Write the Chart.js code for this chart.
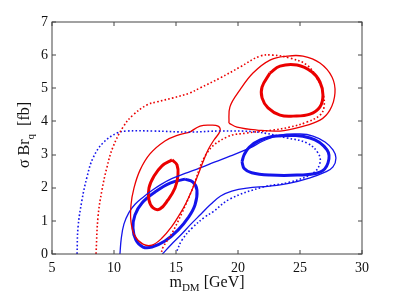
<!DOCTYPE html>
<html>
<head>
<meta charset="utf-8">
<script src="https://cdn.jsdelivr.net/npm/chart.js@4/dist/chart.umd.min.js"></script>
<style>
  html, body { margin: 0; padding: 0; background: #fff; }
  #wrap { width: 399px; height: 299px; }
</style>
</head>
<body>
<div id="wrap"><canvas id="grafica"></canvas></div>
<script>
// Contornos: pares [m_DM, sigma Br_q]
const rojoNucleoIzq = [[14.68,2.84],[15.08,2.69],[15.16,2.38],[14.92,1.99],[14.35,1.63],[13.71,1.36],[13.15,1.39],[12.82,1.63],[12.82,1.99],[13.23,2.35],[13.87,2.66],[14.68,2.84]];
const rojoNucleoDer = [[22.58,5.46],[23.39,5.67],[24.76,5.70],[25.97,5.49],[26.61,5.19],[26.85,4.80],[26.61,4.44],[25.81,4.22],[24.44,4.16],[23.39,4.19],[22.42,4.41],[21.94,4.71],[21.94,5.04],[22.58,5.46]];
const rojoFinoIzq = [[16.13,3.68],[16.94,3.86],[17.74,3.89],[18.39,3.86],[18.55,3.71],[18.06,3.44],[17.58,3.14],[17.18,2.78],[16.77,2.38],[16.29,1.93],[15.81,1.54],[15.32,1.21],[14.68,0.84],[13.87,0.48],[13.06,0.27],[12.34,0.30],[11.69,0.54],[11.37,0.97],[11.37,1.48],[11.61,1.99],[12.10,2.53],[12.90,3.02],[14.11,3.41],[15.16,3.59],[16.13,3.68]];
const rojoFinoDer = [[19.27,3.95],[19.35,4.44],[20.16,4.95],[21.21,5.46],[22.58,5.85],[23.95,5.97],[25.24,5.97],[26.61,5.76],[27.58,5.34],[27.82,4.86],[27.42,4.35],[26.61,4.04],[25.00,3.83],[23.39,3.71],[21.53,3.74],[19.92,3.83],[19.27,3.95]];
const rojoPunteado = [[8.55,0],[8.71,1.12],[9.03,1.93],[9.44,2.63],[9.92,3.23],[10.73,3.83],[11.53,4.19],[12.66,4.50],[13.47,4.59],[14.76,4.71],[16.13,4.86],[16.94,5.01],[18.55,5.31],[20.16,5.64],[21.77,5.97],[22.82,6.00],[24.19,5.91],[25.56,5.70],[26.45,5.25],[26.85,4.86],[26.94,4.44],[26.61,4.19],[25.56,3.98],[24.19,3.83],[22.82,3.74],[20.73,3.65],[19.11,3.53],[17.50,3.05],[16.29,1.93],[15.48,1.24],[14.68,0.63],[13.95,0.2],[13.8,0]];

const azulNucleoIzq = [[15.73,2.26],[16.37,2.17],[16.69,1.93],[16.53,1.48],[15.97,1.09],[15.16,0.72],[14.11,0.39],[13.06,0.21],[12.34,0.21],[11.77,0.42],[11.53,0.78],[11.69,1.18],[12.26,1.54],[13.31,1.87],[14.52,2.14],[15.73,2.26]];
const azulNucleoDer = [[20.32,2.78],[20.5,3.0],[20.9,3.22],[21.8,3.44],[23.15,3.56],[25.81,3.50],[27.18,3.14],[27.26,2.75],[26.61,2.47],[24.76,2.38],[22.58,2.38],[21.1,2.45],[20.5,2.58],[20.32,2.78]];
const azulFino = [[10.48,0],[10.58,0.45],[10.8,0.9],[11.2,1.25],[11.7,1.5],[12.3,1.7],[13.0,1.9],[13.8,2.1],[14.7,2.28],[15.73,2.43],[16.94,2.60],[18.15,2.78],[19.35,2.95],[20.97,3.20],[22.02,3.41],[23.39,3.59],[25.00,3.62],[26.05,3.56],[27.02,3.38],[27.66,3.14],[27.90,2.90],[27.66,2.63],[27.02,2.47],[25.81,2.30],[24.19,2.14],[22.58,2.05],[20.73,1.99],[19.5,1.9],[18.6,1.75],[17.8,1.5],[17.0,1.2],[16.2,0.9],[15.4,0.58],[14.6,0.28],[13.9,0]];
const azulPunteado = [[7.02,0],[7.10,0.81],[7.42,1.63],[7.82,2.32],[8.31,2.90],[9.11,3.35],[10.24,3.65],[11.05,3.71],[13.15,3.71],[16.13,3.68],[18.55,3.71],[21.5,3.68],[23.95,3.50],[25.56,3.35],[26.45,3.05],[26.61,2.75],[26.05,2.44],[24.19,2.17],[22.02,2.02],[19.35,1.66],[17.98,1.27],[17.34,1.12],[16.29,0.78],[15.48,0.42],[15.08,0.1]];

const ticksX = [5, 10, 15, 20, 25, 30];
const ticksY = [0, 1, 2, 3, 4, 5, 6, 7];

const ROJO = 'rgb(235,0,0)';
const AZUL = 'rgb(20,20,235)';
const FUENTE = '"Liberation Serif", "DejaVu Serif", serif';

function serie(puntos, color, ancho, punteado) {
    return {
        data: puntos.map(p => ({ x: p[0], y: p[1] })),
        showLine: true,
        borderColor: color,
        borderWidth: ancho,
        borderDash: punteado ? [1.6, 2.2] : [],
        pointRadius: 0,
        tension: 0.4,
        fill: false
    };
}

// Marco tipo Matlab con marcas hacia adentro y titulos con subindices
const marcoMatlab = {
    id: 'marcoMatlab',
    afterDatasetsDraw(chart) {
        const { ctx, chartArea: a, scales } = chart;
        ctx.save();
        ctx.strokeStyle = '#444';
        ctx.lineWidth = 1;
        ctx.strokeRect(a.left, a.top, a.right - a.left, a.bottom - a.top);
        ctx.beginPath();
        ticksX.forEach(v => {
            const px = Math.round(scales.x.getPixelForValue(v));
            ctx.moveTo(px, a.bottom); ctx.lineTo(px, a.bottom - 4);
            ctx.moveTo(px, a.top); ctx.lineTo(px, a.top + 4);
        });
        ticksY.forEach(v => {
            const py = Math.round(scales.y.getPixelForValue(v));
            ctx.moveTo(a.left, py); ctx.lineTo(a.left + 4, py);
            ctx.moveTo(a.right, py); ctx.lineTo(a.right - 4, py);
        });
        ctx.stroke();
        ctx.restore();
    },
    afterDraw(chart) {
        const { ctx, chartArea: a } = chart;
        ctx.save();
        ctx.fillStyle = '#111';
        ctx.textBaseline = 'alphabetic';

        // Titulo eje X: m_DM [GeV]
        const grande = '16px ' + FUENTE, chico = '11px ' + FUENTE;
        ctx.font = grande; const w1 = ctx.measureText('m').width;
        ctx.font = chico; const w2 = ctx.measureText('DM').width;
        ctx.font = grande; const w3 = ctx.measureText(' [GeV]').width;
        let x0 = (a.left + a.right) / 2 - (w1 + w2 + w3) / 2;
        const yb = 287;
        ctx.textAlign = 'left';
        ctx.font = grande; ctx.fillText('m', x0, yb);
        ctx.font = chico; ctx.fillText('DM', x0 + w1, yb + 4);
        ctx.font = grande; ctx.fillText(' [GeV]', x0 + w1 + w2, yb);

        // Titulo eje Y: sigma Br_q [fb]
        ctx.font = grande; const v1 = ctx.measureText('σ Br').width;
        ctx.font = chico; const v2 = ctx.measureText('q').width;
        ctx.font = grande; const v3 = ctx.measureText('  [fb]').width;
        ctx.translate(29, 135);
        ctx.rotate(-Math.PI / 2);
        let s0 = -(v1 + v2 + v3) / 2;
        ctx.font = grande; ctx.fillText('σ Br', s0, 0);
        ctx.font = chico; ctx.fillText('q', s0 + v1, 5);
        ctx.font = grande; ctx.fillText('  [fb]', s0 + v1 + v2, 0);
        ctx.restore();
    }
};

new Chart(document.getElementById('grafica'), {
    type: 'scatter',
    data: {
        datasets: [
            serie(rojoPunteado, ROJO, 1.6, true),
            serie(azulPunteado, AZUL, 1.6, true),
            serie(rojoFinoIzq, ROJO, 1.3, false),
            serie(rojoFinoDer, ROJO, 1.3, false),
            serie(azulFino, AZUL, 1.3, false),
            serie(rojoNucleoIzq, ROJO, 3, false),
            serie(rojoNucleoDer, ROJO, 3, false),
            serie(azulNucleoIzq, AZUL, 3, false),
            serie(azulNucleoDer, AZUL, 3, false)
        ]
    },
    options: {
        responsive: true,
        maintainAspectRatio: false,
        animation: false,
        layout: { padding: { top: 22, right: 37, left: 0, bottom: 0 } },
        plugins: { legend: { display: false }, tooltip: { enabled: false } },
        scales: {
            x: {
                type: 'linear', min: 5, max: 30,
                afterFit: s => { s.height = 45; },
                afterBuildTicks: s => { s.ticks = ticksX.map(v => ({ value: v })); },
                grid: { display: false, drawTicks: false },
                border: { display: false },
                ticks: { padding: 6, color: '#111', font: { family: FUENTE, size: 14 } }
            },
            y: {
                type: 'linear', min: 0, max: 7,
                afterFit: s => { s.width = 52; },
                afterBuildTicks: s => { s.ticks = ticksY.map(v => ({ value: v })); },
                grid: { display: false, drawTicks: false },
                border: { display: false },
                ticks: { padding: 4, color: '#111', font: { family: FUENTE, size: 14 } }
            }
        }
    },
    plugins: [marcoMatlab]
});
</script>
</body>
</html>
